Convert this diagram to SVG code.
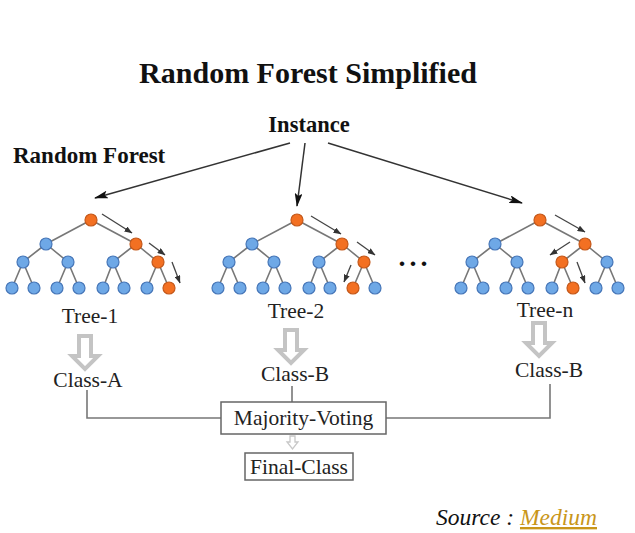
<svg xmlns="http://www.w3.org/2000/svg" width="635" height="533" viewBox="0 0 635 533">
<defs>
<style>
.title{font-family:"Liberation Serif",serif;font-weight:bold;fill:#111}
.lbl{font-family:"Liberation Serif",serif;font-size:21.5px;fill:#222;text-anchor:middle}
.edge{stroke:#777;stroke-width:1.6;fill:none}
.b{fill:#6ea8e6;stroke:#4676b8;stroke-width:1.2}
.o{fill:#f37022;stroke:#c4581a;stroke-width:1.2}
.arr{stroke:#333;stroke-width:1.5;fill:none;marker-end:url(#ah)}
.sarr{stroke:#444;stroke-width:1.3;fill:none;marker-end:url(#sah)}
.conn{stroke:#777;stroke-width:1.6;fill:none}
.block{fill:#fff;stroke:#c4c4c4;stroke-width:4;stroke-linejoin:miter}
.box{fill:#fff;stroke:#666;stroke-width:1.5}
</style>
<marker id="ah" viewBox="0 0 14 8" refX="13" refY="4" markerWidth="14" markerHeight="8" markerUnits="userSpaceOnUse" orient="auto">
<path d="M0,0 L14,4 L0,8 L3,4 Z" fill="#111"/>
</marker>
<marker id="sah" viewBox="0 0 8 6" refX="7.5" refY="3" markerWidth="8" markerHeight="6" markerUnits="userSpaceOnUse" orient="auto">
<path d="M0,0 L8,3 L0,6 Z" fill="#333"/>
</marker>
<g id="treeEdges">
<path class="edge" d="M91,220 L46,244 M91,220 L136,244 M46,244 L23,262 M46,244 L68,262 M136,244 L113,262 M136,244 L158,262 M23,262 L12,288 M23,262 L34,288 M68,262 L57,288 M68,262 L79,288 M113,262 L103,288 M113,262 L124,288 M158,262 L147,288 M158,262 L169,288"/>
</g>
</defs>

<text class="title" x="308" y="83" font-size="30" text-anchor="middle">Random Forest Simplified</text>
<g id="instance"><text class="title" x="309" y="132" font-size="22.5" text-anchor="middle">Instance</text></g>
<text class="title" x="13" y="163" font-size="23">Random Forest</text>

<g id="connectors">
<line class="arr" x1="290" y1="143" x2="95" y2="198"/>
<line class="arr" x1="305" y1="143" x2="297" y2="206"/>
<line class="arr" x1="328" y1="143" x2="522" y2="203"/>
<path class="conn" d="M87,390 V418 H221"/>
<path class="conn" d="M292,386 V402"/>
<path class="conn" d="M550,384 V418 H386"/>
<path class="block" d="M79,336 H91 V356 H98 L85,369 L72,356 H79 Z"/>
<path class="block" d="M285,330 H297 V350 H304 L291,363 L278,350 H285 Z"/>
<path class="block" d="M533,323 H545 V343 H552 L539,356 L526,343 H533 Z"/>
<path d="M290,436 H295 V442 H298 L292.5,449 L287,442 H290 Z" fill="#fff" stroke="#c8c8c8" stroke-width="1.3"/>
</g>

<g id="tree-1">
<use href="#treeEdges"/>
<circle class="o" cx="91" cy="220" r="6"/>
<circle class="b" cx="46" cy="244" r="6"/><circle class="o" cx="136" cy="244" r="6"/>
<circle class="b" cx="23" cy="262" r="6"/><circle class="b" cx="68" cy="262" r="6"/><circle class="b" cx="113" cy="262" r="6"/><circle class="o" cx="158" cy="262" r="6"/>
<circle class="b" cx="12" cy="288" r="6"/><circle class="b" cx="34" cy="288" r="6"/><circle class="b" cx="57" cy="288" r="6"/><circle class="b" cx="79" cy="288" r="6"/>
<circle class="b" cx="103" cy="288" r="6"/><circle class="b" cx="124" cy="288" r="6"/><circle class="b" cx="147" cy="288" r="6"/><circle class="o" cx="169" cy="288" r="6"/>
<line class="sarr" x1="102" y1="214" x2="132" y2="233"/>
<line class="sarr" x1="149" y1="243" x2="165" y2="255"/>
<line class="sarr" x1="172" y1="262" x2="180" y2="283"/>
<text class="lbl" x="90" y="323">Tree-1</text>
</g>

<g id="tree-2">
<use href="#treeEdges" transform="translate(206,0)"/>
<circle class="o" cx="297" cy="220" r="6"/>
<circle class="b" cx="252" cy="244" r="6"/><circle class="o" cx="342" cy="244" r="6"/>
<circle class="b" cx="229" cy="262" r="6"/><circle class="b" cx="274" cy="262" r="6"/><circle class="b" cx="319" cy="262" r="6"/><circle class="o" cx="364" cy="262" r="6"/>
<circle class="b" cx="218" cy="288" r="6"/><circle class="b" cx="240" cy="288" r="6"/><circle class="b" cx="263" cy="288" r="6"/><circle class="b" cx="285" cy="288" r="6"/>
<circle class="b" cx="309" cy="288" r="6"/><circle class="b" cx="330" cy="288" r="6"/><circle class="o" cx="353" cy="288" r="6"/><circle class="b" cx="375" cy="288" r="6"/>
<line class="sarr" x1="311" y1="216" x2="341" y2="234"/>
<line class="sarr" x1="357" y1="242" x2="375" y2="255"/>
<line class="sarr" x1="351" y1="265" x2="344" y2="282"/>
<text class="lbl" x="296" y="318">Tree-2</text>
</g>

<g id="dots"><text class="title" x="415" y="266" font-size="28" text-anchor="middle" letter-spacing="4">...</text></g>

<g id="tree-n">
<use href="#treeEdges" transform="translate(449,0)"/>
<circle class="o" cx="540" cy="220" r="6"/>
<circle class="b" cx="495" cy="244" r="6"/><circle class="o" cx="585" cy="244" r="6"/>
<circle class="b" cx="472" cy="262" r="6"/><circle class="b" cx="517" cy="262" r="6"/><circle class="o" cx="562" cy="262" r="6"/><circle class="b" cx="607" cy="262" r="6"/>
<circle class="b" cx="461" cy="288" r="6"/><circle class="b" cx="483" cy="288" r="6"/><circle class="b" cx="506" cy="288" r="6"/><circle class="b" cx="528" cy="288" r="6"/>
<circle class="b" cx="552" cy="288" r="6"/><circle class="o" cx="573" cy="288" r="6"/><circle class="b" cx="596" cy="288" r="6"/><circle class="b" cx="618" cy="288" r="6"/>
<line class="sarr" x1="555" y1="215" x2="585" y2="232"/>
<line class="sarr" x1="570" y1="242" x2="550" y2="255"/>
<line class="sarr" x1="577" y1="262" x2="585" y2="283"/>
<text class="lbl" x="545" y="317">Tree-n</text>
</g>

<g id="class-a"><text class="lbl" x="88" y="387">Class-A</text></g>
<g id="class-b1"><text class="lbl" x="295" y="381">Class-B</text></g>
<g id="class-b2"><text class="lbl" x="549" y="377">Class-B</text></g>

<g id="majority">
<rect class="box" x="221" y="402" width="165" height="32"/>
<text class="lbl" x="303.5" y="425">Majority-Voting</text>
</g>
<g id="final">
<rect class="box" x="245" y="453" width="108" height="27"/>
<text class="lbl" x="299" y="474">Final-Class</text>
</g>

<text x="597" y="525" font-family="Liberation Serif, serif" font-style="italic" font-size="23.5" text-anchor="end" fill="#111">Source : <tspan fill="#c9961a" text-decoration="underline">Medium</tspan></text>
</svg>
